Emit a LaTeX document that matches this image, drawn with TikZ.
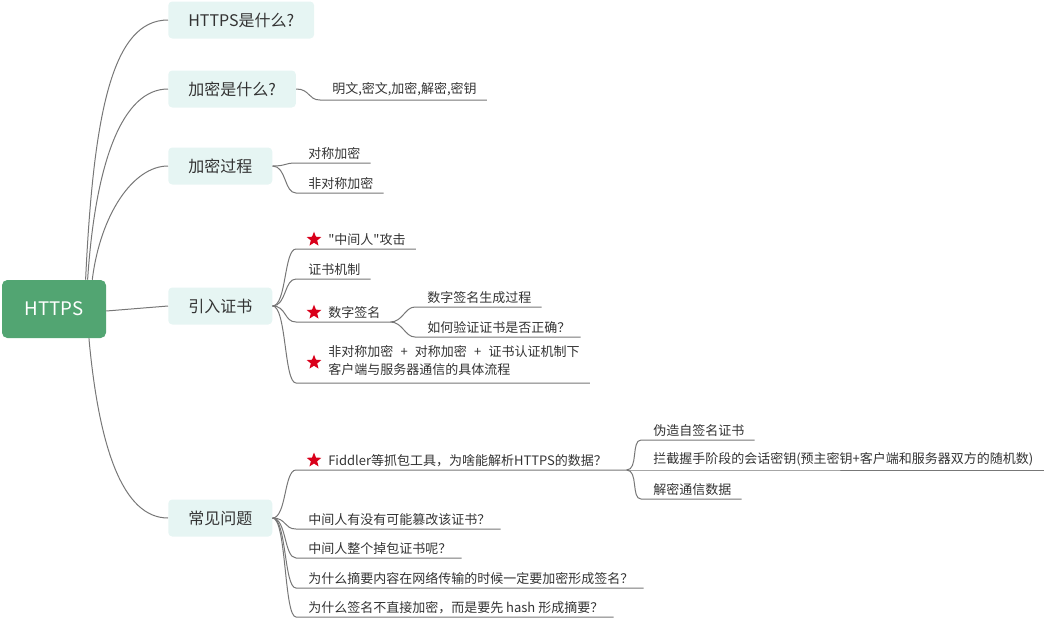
\documentclass[tikz,border=0pt]{standalone}
\usepackage{fontspec}
\setmainfont{Noto Sans CJK SC}[Ligatures=TeXOff]
\usetikzlibrary{shapes.geometric}
\definecolor{rootgreen}{HTML}{52A572}
\definecolor{boxteal}{HTML}{E6F5F3}
\definecolor{linegray}{HTML}{777777}
\definecolor{textgray}{HTML}{333333}
\definecolor{starred}{HTML}{D9001B}
\tikzset{
  rootbox/.style={draw=none,fill=rootgreen,rounded corners=4pt,text=white,
    minimum width=78pt,minimum height=43.5pt,font=\fontsize{14pt}{16pt}\selectfont},
  topicbox/.style={fill=boxteal,rounded corners=3pt,anchor=west,text=textgray,
    minimum height=27.75pt,inner xsep=15pt,font=\fontsize{12pt}{14pt}\selectfont},
  leaf/.style={anchor=south west,inner xsep=0pt,inner ysep=2.5pt,text=textgray,
    font=\fontsize{9.75pt}{12pt}\selectfont,
    execute at begin node={\hspace*{9pt}},execute at end node={\hspace*{7.5pt}}},
  starleaf/.style={leaf,execute at begin node={\hspace*{15pt}}},
  starmark/.style={star,star points=5,star point ratio=2.3,fill=starred,
    minimum size=11.5pt,inner sep=0pt},
  branch/.style={draw=linegray,line width=0.75pt}
}
\newcommand{\markstar}[1]{\node[starmark] at ([xshift=13.5pt]#1.west) {};}
\newcommand{\plussep}{\,\,+\,\,}
\begin{document}
\begin{tikzpicture}[x=0.75pt,y=-0.75pt]
  \useasboundingbox (0,0) rectangle (1060,618);
  % root and main topics
  \node[rootbox] (root) at (54,309) {HTTPS};
  \node[topicbox] (b1) at (168,20) {HTTPS是什么?};
  \node[topicbox] (b2) at (168,89) {加密是什么?};
  \node[topicbox] (b3) at (168,166) {加密过程};
  \node[topicbox] (b4) at (168,306) {引入证书};
  \node[topicbox] (b5) at (168,518) {常见问题};

  \draw[branch] ([xshift=-15.5pt]root.north east) .. controls +(8,-170) and +(-55,0) .. (b1.west);
  \draw[branch] ([xshift=-14pt]root.north east) .. controls +(8,-120) and +(-45,0) .. (b2.west);
  \draw[branch] ([xshift=-10.5pt]root.north east) .. controls +(8,-65) and +(-35,0) .. (b3.west);
  \draw[branch] ([yshift=-1.5pt]root.east) -- (b4.west);
  \draw[branch] ([xshift=-13pt]root.south east) .. controls +(10,110) and +(-45,0) .. (b5.west);

  % leaves
  \node[leaf] (l21) at (320,100) {明文,密文,加密,解密,密钥};
  \node[leaf] (l31) at (296,163) {对称加密};
  \node[leaf] (l32) at (296,193) {非对称加密};
  \node[starleaf] (l41) at (296,249) {"中间人"攻击};
  \node[leaf] (l42) at (296,279) {证书机制};
  \node[starleaf] (l43) at (296,322) {数字签名};
  \node[starleaf] (l44) at (296,383) {\begin{tabular}{@{}l@{}}非对称加密 \plussep{} 对称加密 \plussep{} 证书认证机制下\\[1.5pt]客户端与服务器通信的具体流程\end{tabular}};
  \node[leaf] (l431) at (415,307) {数字签名生成过程};
  \node[leaf] (l432) at (415,337) {如何验证证书是否正确？};
  \node[starleaf] (l51) at (296,470) {Fiddler等抓包工具，为啥能解析HTTPS的数据？\hspace*{7pt}};
  \node[leaf] (l52) at (296,529) {中间人有没有可能篡改该证书？};
  \node[leaf] (l53) at (296,558) {中间人整个掉包证书呢？};
  \node[leaf] (l54) at (296,588) {为什么摘要内容在网络传输的时候一定要加密形成签名？};
  \node[leaf] (l55) at (296,617) {为什么签名不直接加密，而是要先 hash 形成摘要？};
  \node[leaf] (l511) at (641,440) {伪造自签名证书};
  \node[leaf] (l512) at (641,470) {拦截握手阶段的会话密钥(预主密钥+客户端和服务器双方的随机数)};
  \node[leaf] (l513) at (641,499) {解密通信数据};
  \markstar{l41}
  \markstar{l43}
  \markstar{l44}
  \markstar{l51}

  \draw[branch] (b2.east) .. controls +(14,0) and +(-12,0) .. (l21.south west) -- (l21.south east);
  \foreach \c in {l31,l32}
    \draw[branch] (b3.east) .. controls +(14,0) and +(-12,0) .. (\c.south west) -- (\c.south east);
  \foreach \c in {l41,l42,l43,l44}
    \draw[branch] (b4.east) .. controls +(14,0) and +(-12,0) .. (\c.south west) -- (\c.south east);
  \foreach \c in {l431,l432}
    \draw[branch] (l43.south east) .. controls +(12,0) and +(-10,0) .. (\c.south west) -- (\c.south east);
  \foreach \c in {l51,l52,l53,l54,l55}
    \draw[branch] (b5.east) .. controls +(14,0) and +(-12,0) .. (\c.south west) -- (\c.south east);
  \foreach \c in {l511,l512,l513}
    \draw[branch] (l51.south east) .. controls +(12,0) and +(-10,0) .. (\c.south west) -- (\c.south east);
\end{tikzpicture}
\end{document}
